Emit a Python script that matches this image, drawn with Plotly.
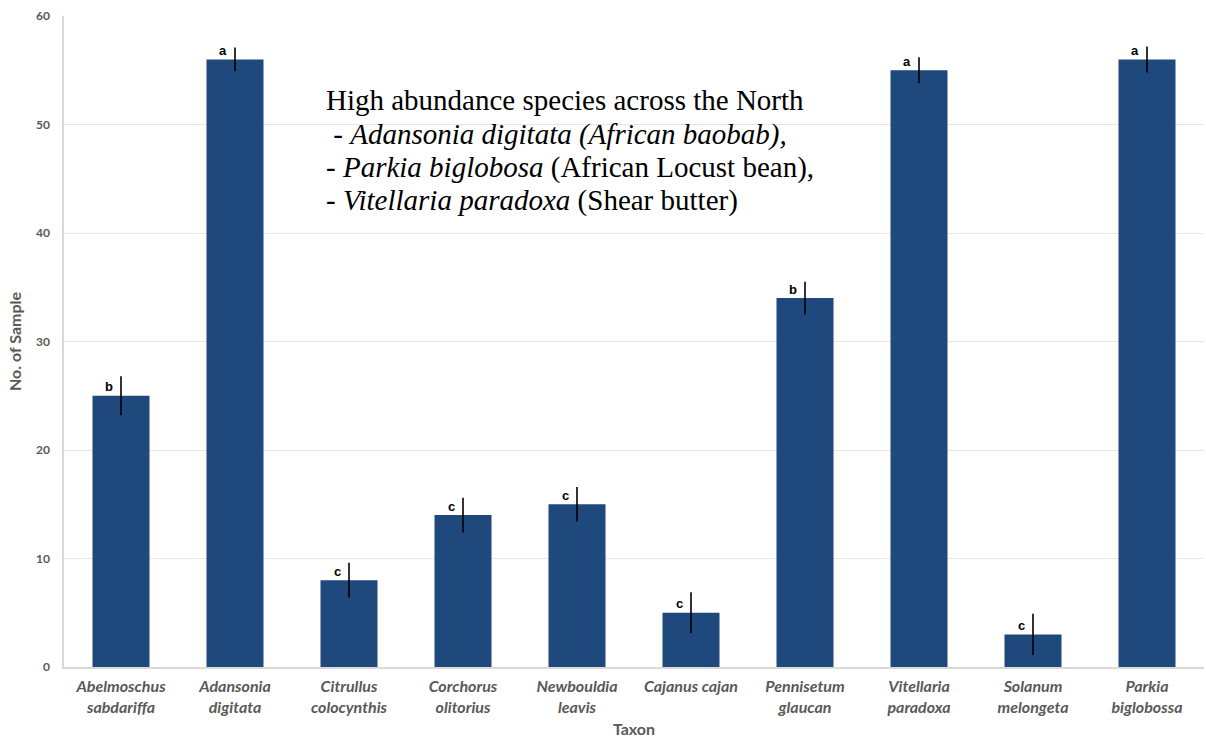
import plotly.graph_objects as go

taxa = ["Abelmoschus<br>sabdariffa", "Adansonia<br>digitata", "Citrullus<br>colocynthis",
        "Corchorus<br>olitorius", "Newbouldia<br>leavis", "Cajanus cajan",
        "Pennisetum<br>glaucan", "Vitellaria<br>paradoxa", "Solanum<br>melongeta",
        "Parkia<br>biglobossa"]
samples = [25, 56, 8, 14, 15, 5, 34, 55, 3, 56]
errors = [1.8, 1.1, 1.6, 1.6, 1.6, 1.9, 1.5, 1.2, 1.9, 1.2]
letters = ["b", "a", "c", "c", "c", "c", "b", "a", "c", "a"]
note_lines = [
    "High abundance species across the North",
    " - <i>Adansonia digitata (African baobab),</i>",
    "- <i>Parkia biglobosa</i> (African Locust bean),",
    "- <i>Vitellaria paradoxa</i> (Shear butter)",
]

fig = go.Figure()
fig.add_trace(go.Bar(
    x=taxa, y=samples, width=0.5,
    marker=dict(color="#1f497d", line=dict(width=0)),
    error_y=dict(type="data", array=errors, width=0, thickness=1.6, color="black"),
))

for t, v, e, l in zip(taxa, samples, errors, letters):
    fig.add_annotation(x=t, y=v, text="<b>" + l + "</b>", showarrow=False,
                       xshift=-12, yshift=9, font=dict(family="Arial", size=13, color="black"))

line_y = [0.871, 0.818, 0.767, 0.716]
for txt, yy in zip(note_lines, line_y):
    fig.add_annotation(
        xref="paper", yref="paper", x=0.228, y=yy, xanchor="left", yanchor="middle",
        align="left", showarrow=False, text=txt,
        font=dict(family="Liberation Serif", size=29, color="black"),
    )

fig.update_layout(
    width=1206, height=738,
    margin=dict(l=64, r=2, t=16, b=71),
    plot_bgcolor="white", paper_bgcolor="white",
    showlegend=False, bargap=0.5,
    xaxis=dict(
        title=dict(text="Taxon", font=dict(family="Lato", size=16, color="#595959", weight="bold"), standoff=10),
        tickfont=dict(family="Lato", size=16, color="#595959", weight="bold", style="italic"),
        showline=True, linecolor="#d9d9d9", linewidth=1.5, ticks="", ticklabelstandoff=4,
    ),
    yaxis=dict(
        title=dict(text="No. of Sample", font=dict(family="Lato", size=16, color="#595959", weight="bold"), standoff=10),
        tickfont=dict(family="Lato", size=12, color="#595959", weight="bold"),
        range=[0, 60], dtick=10, showgrid=True, gridcolor="#e6e6e6", gridwidth=1,
        showline=True, linecolor="#d9d9d9", linewidth=1.5, ticks="", zeroline=False,
        ticklabelstandoff=10,
    ),
)

fig.write_html("out.html")
